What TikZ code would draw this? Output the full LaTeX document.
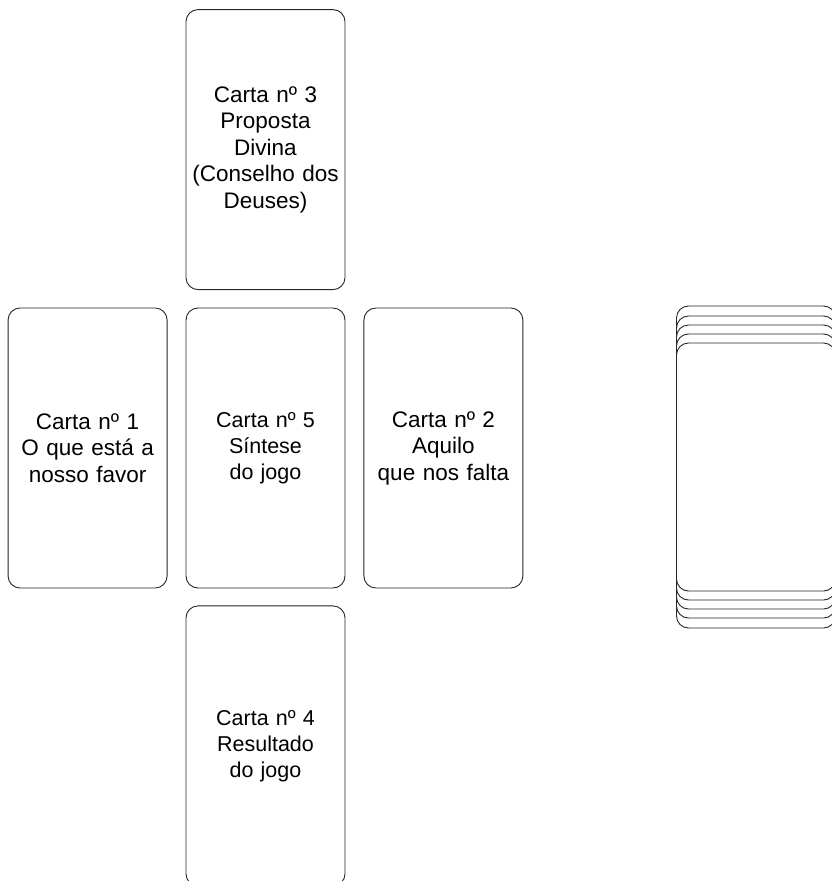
\documentclass[tikz,border=0pt]{standalone}
\usepackage{fontspec}
\setmainfont{Liberation Sans}
\usetikzlibrary{positioning}
\tikzset{
  carta/.style={rectangle, rounded corners=12pt, draw=black!85, line width=0.9pt, fill=white, minimum width=159pt, minimum height=280pt, inner sep=0pt, text width=157pt, align=center, font=\fontsize{22.5}{26.5}\selectfont},
  cartamenor/.style={carta, font=\fontsize{21.5}{26}\selectfont},
  monte/.style={carta, minimum height=#1}
}
\begin{document}
\begin{tikzpicture}[node distance=18pt]
  \useasboundingbox (0,0) rectangle (831pt,-881pt);
  \node (carta5) [cartamenor] at (265.5pt,-448pt) {Carta nº 5\\Síntese\\do jogo};
  \node (carta1) [carta, left=18pt of carta5] {Carta nº 1\\O que está a\\nosso favor};
  \node (carta2) [carta, right=18pt of carta5] {Carta nº 2\\Aquilo\\que nos falta};
  \node (carta3) [carta, above=17.5pt of carta5] {Carta nº 3\\Proposta\\Divina\\(Conselho dos\\Deuses)};
  \node (carta4) [cartamenor, below=17pt of carta5] {Carta nº 4\\Resultado\\do jogo};
  % monte de cartas
  \foreach \i/\h in {1/322,2/302,3/284,4/266,5/248}
    \node (monte\i) [monte=\h pt] at (756pt,-467pt) {};
\end{tikzpicture}
\end{document}
